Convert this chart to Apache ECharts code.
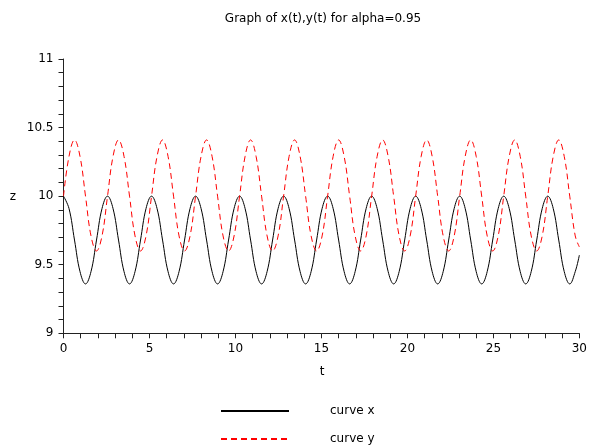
<!DOCTYPE html>
<html><head><meta charset="utf-8">
<script src="https://cdn.jsdelivr.net/npm/echarts@6/dist/echarts.min.js"></script>
<style>html,body{margin:0;padding:0;background:#fff}#c{width:590px;height:447px}</style>
</head><body><div id="c"></div>
<script>
const titleText = 'Graph of x(t),y(t) for alpha=0.95';
const seriesNames = ['curve x', 'curve y'];
const times = [0, 0.32, 0.64, 0.96, 1.28, 1.6, 1.92, 2.24, 2.56, 2.88, 3.2, 3.52, 3.84, 4.16, 4.48, 4.8,
  5.12, 5.44, 5.76, 6.08, 6.4, 6.72, 7.04, 7.36, 7.68, 8, 8.32, 8.64, 8.96, 9.28, 9.6, 9.92,
  10.24, 10.56, 10.88, 11.2, 11.52, 11.84, 12.16, 12.48, 12.8, 13.12, 13.44, 13.76, 14.08, 14.4, 14.72, 15.04,
  15.36, 15.68, 16, 16.32, 16.64, 16.96, 17.28, 17.6, 17.92, 18.24, 18.56, 18.88, 19.2, 19.52, 19.84, 20.16,
  20.48, 20.8, 21.12, 21.44, 21.76, 22.08, 22.4, 22.72, 23.04, 23.36, 23.68, 24, 24.32, 24.64, 24.96, 25.28,
  25.6, 25.92, 26.24, 26.56, 26.88, 27.2, 27.52, 27.84, 28.16, 28.48, 28.8, 29.12, 29.44, 29.76, 30];
const curveX = [10.00, 9.91, 9.68, 9.45, 9.36, 9.45, 9.68, 9.91, 10.00, 9.91, 9.68, 9.45, 9.36, 9.45, 9.68, 9.91,
  10.00, 9.91, 9.68, 9.45, 9.36, 9.45, 9.68, 9.91, 10.00, 9.91, 9.68, 9.45, 9.36, 9.45, 9.68, 9.91,
  10.00, 9.91, 9.68, 9.45, 9.36, 9.45, 9.68, 9.91, 10.00, 9.91, 9.68, 9.45, 9.36, 9.45, 9.68, 9.91,
  10.00, 9.91, 9.68, 9.45, 9.36, 9.45, 9.68, 9.91, 10.00, 9.91, 9.68, 9.45, 9.36, 9.45, 9.68, 9.91,
  10.00, 9.91, 9.68, 9.45, 9.36, 9.45, 9.68, 9.91, 10.00, 9.91, 9.68, 9.45, 9.36, 9.45, 9.68, 9.91,
  10.00, 9.91, 9.68, 9.45, 9.36, 9.45, 9.68, 9.91, 10.00, 9.91, 9.68, 9.45, 9.36, 9.45, 9.57];
const curveY = [10.00, 10.29, 10.41, 10.29, 10.00, 9.71, 9.60, 9.71, 10.00, 10.29, 10.41, 10.29, 10.00, 9.71, 9.60, 9.71,
  10.00, 10.29, 10.41, 10.29, 10.00, 9.71, 9.60, 9.71, 10.00, 10.29, 10.41, 10.29, 10.00, 9.71, 9.60, 9.71,
  10.00, 10.29, 10.41, 10.29, 10.00, 9.71, 9.60, 9.71, 10.00, 10.29, 10.41, 10.29, 10.00, 9.71, 9.60, 9.71,
  10.00, 10.29, 10.41, 10.29, 10.00, 9.71, 9.60, 9.71, 10.00, 10.29, 10.41, 10.29, 10.00, 9.71, 9.60, 9.71,
  10.00, 10.29, 10.41, 10.29, 10.00, 9.71, 9.60, 9.71, 10.00, 10.29, 10.41, 10.29, 10.00, 9.71, 9.60, 9.71,
  10.00, 10.29, 10.41, 10.29, 10.00, 9.71, 9.60, 9.71, 10.00, 10.29, 10.41, 10.29, 10.00, 9.71, 9.63];
const xRange = [0, 30, 5];
const yRange = [9, 11, 0.5];

const font = 'DejaVu Sans, Liberation Sans, sans-serif';
const chart = echarts.init(document.getElementById('c'), null, {renderer: 'canvas'});
const axisCommon = {
  type: 'value',
  axisLine: {show: true, onZero: false, lineStyle: {color: '#222', width: 1}},
  axisTick: {show: true, inside: false, length: 5, lineStyle: {color: '#222', width: 1}},
  minorTick: {show: true, splitNumber: 5, length: 5, lineStyle: {color: '#222', width: 1}},
  splitLine: {show: false},
  minorSplitLine: {show: false},
  axisLabel: {color: '#000', fontSize: 12, fontFamily: font, margin: 10}
};
chart.setOption({
  animation: false,
  backgroundColor: '#fff',
  grid: {left: 63.5, right: 8.7, top: 59, bottom: 113.7},
  xAxis: Object.assign({}, axisCommon, {min: xRange[0], max: xRange[1], interval: xRange[2]}),
  yAxis: Object.assign({}, axisCommon, {min: yRange[0], max: yRange[1], interval: yRange[2]}),
  legend: {
    orient: 'vertical', left: 220, top: 405, padding: 0,
    itemWidth: 68, itemHeight: 14, itemGap: 16,
    textStyle: {fontSize: 12, color: '#000', fontFamily: font, padding: [0, 0, 0, 36]},
    data: seriesNames
  },
  graphic: [
    {type: 'text', x: 323, y: 19, style: {text: titleText, fill: '#000', font: '12px ' + font, textAlign: 'center', textVerticalAlign: 'middle'}},
    {type: 'text', x: 13, y: 197, style: {text: 'z', fill: '#000', font: '12px ' + font, textAlign: 'center', textVerticalAlign: 'middle'}},
    {type: 'text', x: 322, y: 372, style: {text: 't', fill: '#000', font: '12px ' + font, textAlign: 'center', textVerticalAlign: 'middle'}}
  ],
  series: [
    {name: seriesNames[0], type: 'line', symbol: 'circle', showSymbol: false, smooth: 0.4,
     lineStyle: {color: '#000', width: 1}, itemStyle: {color: 'rgba(0,0,0,0)', borderWidth: 0},
     data: times.map((t, i) => [t, curveX[i]])},
    {name: seriesNames[1], type: 'line', symbol: 'circle', showSymbol: false, smooth: 0.4,
     lineStyle: {color: '#ff0000', width: 1, type: [6, 4]}, itemStyle: {color: 'rgba(0,0,0,0)', borderWidth: 0},
     data: times.map((t, i) => [t, curveY[i]])}
  ]
});
</script></body></html>
